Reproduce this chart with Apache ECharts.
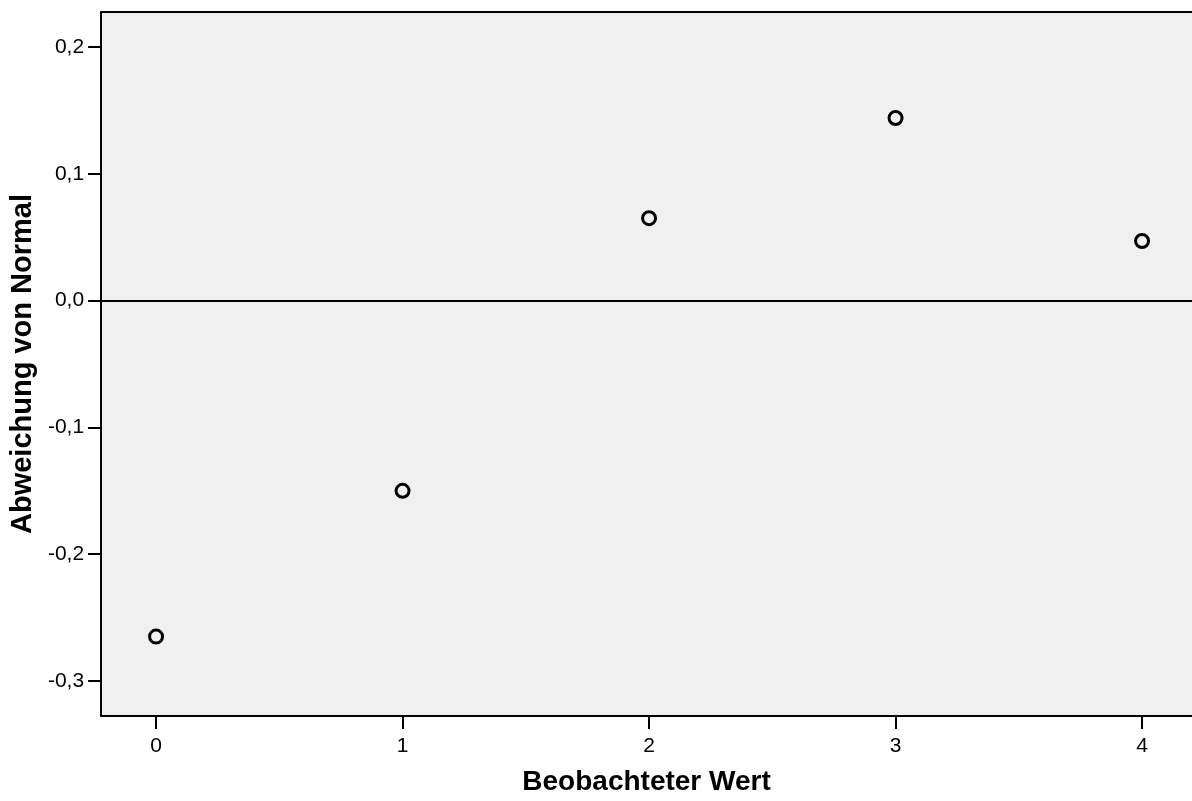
<!DOCTYPE html>
<html>
<head>
<meta charset="utf-8">
<script src="https://cdn.jsdelivr.net/npm/echarts@6/dist/echarts.min.js"></script>
<style>
html,body{margin:0;padding:0;background:#fff;}
#chart{width:1192px;height:801px;}
</style>
</head>
<body>
<div id="chart"></div>
<script>
const observedValues = [0, 1, 2, 3, 4];
const deviations = [-0.265, -0.150, 0.065, 0.144, 0.047];
const xTicks = [0, 1, 2, 3, 4];
const yTicks = [-0.3, -0.2, -0.1, 0.0, 0.1, 0.2];
const xTitle = 'Beobachteter Wert';
const yTitle = 'Abweichung von Normal';

const font = '"Liberation Sans", Arial, sans-serif';
const chart = echarts.init(document.getElementById('chart'), null, {renderer: 'canvas'});
chart.setOption({
  animation: false,
  backgroundColor: '#ffffff',
  grid: {
    left: 100, top: 12, right: 0, bottom: 85,
    show: true, backgroundColor: '#f0f0f0', borderWidth: 0
  },
  xAxis: [{
    type: 'value', min: -0.223, max: 4.2026, position: 'bottom',
    name: xTitle, nameLocation: 'middle', nameGap: 52,
    nameTextStyle: {fontFamily: font, fontSize: 28, fontWeight: 'bold', color: '#000'},
    axisLine: {show: true, onZero: false, lineStyle: {color: '#000', width: 2}},
    axisTick: {show: true, length: 13, lineStyle: {color: '#000', width: 2},
      customValues: xTicks},
    axisLabel: {fontFamily: font, fontSize: 21, color: '#000', margin: 20,
      customValues: xTicks, formatter: v => String(v)},
    splitLine: {show: false}
  }, {
    type: 'value', min: -0.223, max: 4.2026, position: 'top',
    axisLine: {show: true, onZero: false, lineStyle: {color: '#000', width: 2}},
    axisTick: {show: false}, axisLabel: {show: false}, splitLine: {show: false}
  }],
  yAxis: {
    type: 'value', min: -0.3276, max: 0.2276,
    name: yTitle, nameLocation: 'middle', nameGap: 62,
    nameTextStyle: {fontFamily: font, fontSize: 29, fontWeight: 'bold', color: '#000'},
    axisLine: {show: true, onZero: false, lineStyle: {color: '#000', width: 2}},
    axisTick: {show: true, length: 13, lineStyle: {color: '#000', width: 2},
      customValues: yTicks},
    axisLabel: {fontFamily: font, fontSize: 21, color: '#000', margin: 17,
      customValues: yTicks, formatter: v => v.toFixed(1).replace('.', ',')},
    splitLine: {show: false}
  },
  series: [{
    type: 'scatter',
    xAxisIndex: 0,
    data: observedValues.map((x, i) => [x, deviations[i]]),
    symbol: 'circle', symbolSize: 13,
    itemStyle: {color: 'transparent', borderColor: '#000', borderWidth: 3, opacity: 1},
    markLine: {
      silent: true, symbol: 'none', label: {show: false},
      lineStyle: {color: '#000', width: 2, type: 'solid'},
      data: [{yAxis: 0}]
    }
  }]
});
</script>
</body>
</html>
